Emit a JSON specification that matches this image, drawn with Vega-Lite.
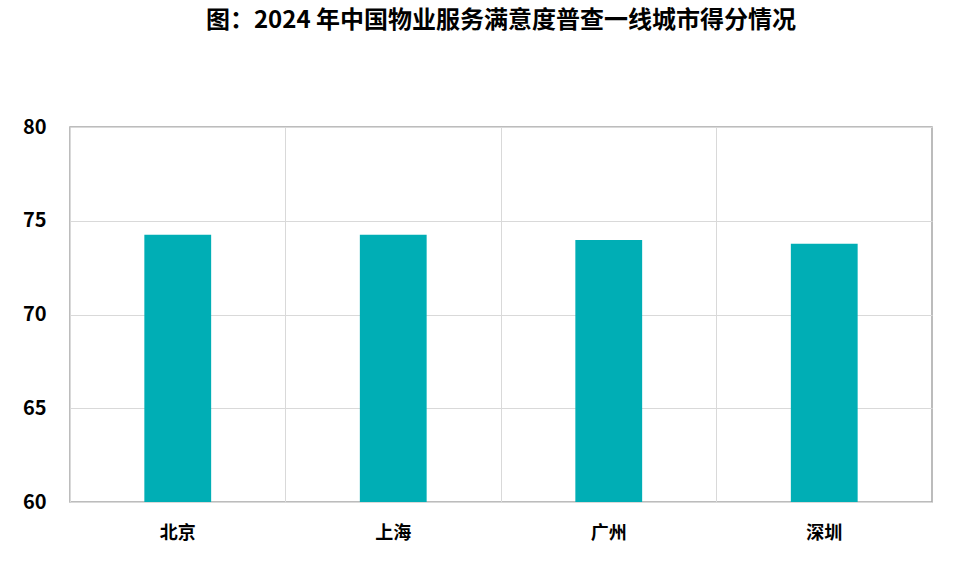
{
  "$schema": "https://vega.github.io/schema/vega-lite/v6.json",
  "width": 862,
  "height": 375,
  "autosize": {"type": "none"},
  "padding": {"left": 70, "top": 127, "right": 28, "bottom": 61},
  "background": "white",
  "title": {
    "text": "图：2024 年中国物业服务满意度普查一线城市得分情况",
    "font": "Noto Sans CJK SC",
    "fontSize": 24,
    "fontWeight": "bold",
    "color": "#000000",
    "anchor": "middle",
    "offset": 84
  },
  "data": {
    "values": [
      {"city": "北京", "score": 74.25},
      {"city": "上海", "score": 74.26},
      {"city": "广州", "score": 73.97},
      {"city": "深圳", "score": 73.78}
    ]
  },
  "mark": {"type": "bar", "color": "#00AEB5", "width": {"band": 0.31}, "clip": true},
  "encoding": {
    "x": {
      "field": "city",
      "type": "nominal",
      "sort": null,
      "scale": {"paddingInner": 0, "paddingOuter": 0},
      "axis": {
        "title": null,
        "labelAngle": 0,
        "labelFont": "Noto Sans CJK SC",
        "labelFontSize": 18,
        "labelFontWeight": "bold",
        "labelColor": "#000000",
        "labelPadding": 22,
        "ticks": false,
        "domain": false,
        "grid": true,
        "bandPosition": 0,
        "gridColor": "#D9D9D9",
        "gridWidth": 1
      }
    },
    "y": {
      "field": "score",
      "type": "quantitative",
      "scale": {"domain": [60, 80], "nice": false, "zero": false},
      "axis": {
        "title": null,
        "values": [60, 65, 70, 75, 80],
        "labelFont": "Noto Sans CJK SC",
        "labelFontSize": 20,
        "labelFontWeight": "bold",
        "labelColor": "#000000",
        "labelPadding": 24,
        "ticks": false,
        "domain": false,
        "gridColor": "#D9D9D9",
        "gridWidth": 1
      }
    }
  },
  "config": {
    "view": {"stroke": "#A6A6A6", "strokeWidth": 1.5}
  }
}
